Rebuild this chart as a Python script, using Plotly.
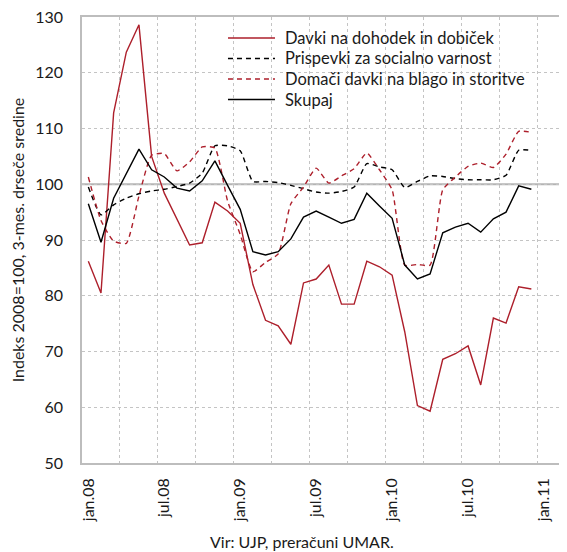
import plotly.graph_objects as go

# monthly, jan.08 .. dec.10 (3-month moving averages, 2008=100)
months = list(range(36))
tick_pos = [0, 6, 12, 18, 24, 30, 36]
tick_text = ["jan.08", "jul.08", "jan.09", "jul.09", "jan.10", "jul.10", "jan.11"]

davki_dohodek = [86.2, 80.5, 112.8, 123.7, 128.6, 105.0, 98.4, 93.8, 89.1, 89.5, 96.8, 95.2,
                 93.0, 82.0, 75.6, 74.6, 71.3, 82.3, 83.0, 85.5, 78.5, 78.5, 86.2, 85.2,
                 83.7, 73.5, 60.3, 59.3, 68.6, 69.6, 71.0, 64.0, 76.0, 75.1, 81.6, 81.2]
prispevki = [99.5, 94.5, 96.3, 97.5, 98.3, 98.8, 99.1, 99.6, 100.2, 102.0, 106.9, 106.9,
             106.0, 100.5, 100.5, 100.3, 99.8, 99.2, 98.6, 98.4, 98.7, 99.5, 103.7, 103.1,
             102.6, 99.4, 100.5, 101.5, 101.4, 101.0, 100.8, 100.8, 100.8, 101.6, 106.1, 106.1]
domaci = [101.3, 93.5, 89.8, 89.4, 97.9, 105.2, 105.5, 102.4, 104.0, 106.7, 106.5, 97.0,
          91.0, 84.3, 86.0, 87.5, 96.5, 99.5, 102.9, 100.2, 101.5, 102.8, 105.6, 102.6,
          99.0, 85.5, 85.6, 85.5, 99.0, 101.3, 103.2, 103.8, 103.0, 105.4, 109.5, 109.3]
skupaj = [96.5, 89.6, 97.5, 102.0, 106.3, 102.6, 101.3, 99.3, 98.8, 100.6, 104.2, 99.8,
          95.5, 87.9, 87.3, 87.9, 90.2, 94.1, 95.2, 94.1, 93.0, 93.7, 98.4, 96.1,
          93.9, 85.5, 83.0, 83.9, 91.3, 92.3, 93.0, 91.4, 93.8, 95.0, 99.7, 99.1]

series_names = ["Davki na dohodek in dobiček", "Prispevki za socialno varnost",
                "Domači davki na blago in storitve", "Skupaj"]

RED = "#ad1f2b"
FONT = "Lato"
DASH = "5px,4px"

styles = [
    dict(color=RED, width=1.4),
    dict(color="black", width=1.4, dash=DASH),
    dict(color=RED, width=1.4, dash=DASH),
    dict(color="black", width=1.4),
]

fig = go.Figure()
for name, vals, st in zip(series_names, [davki_dohodek, prispevki, domaci, skupaj], styles):
    line = dict(st)
    if "dash" in st:
        line.update(shape="spline", smoothing=0.5)
    fig.add_trace(go.Scatter(x=months, y=vals, mode="lines", name=name, line=line))

# the 100 reference line
fig.add_shape(type="line", xref="paper", x0=0, x1=1, yref="y", y0=100, y1=100,
              line=dict(color="#b4b4b4", width=2), layer="between")

# legend box drawn by hand (white box over the grid, short line samples, labels)
fig.add_shape(type="rect", xref="paper", yref="paper", x0=0.272, x1=0.931, y0=0.792, y1=0.971,
              fillcolor="white", line=dict(width=0), layer="between")
rows_y = [0.953, 0.907, 0.861, 0.815]
for name, st, ry in zip(series_names, styles, rows_y):
    fig.add_shape(type="line", xref="paper", yref="paper", x0=0.3035, x1=0.4012, y0=ry, y1=ry,
                  line=st, layer="above")
    fig.add_annotation(text=name, xref="paper", yref="paper", x=0.418, y=ry,
                       xanchor="left", yanchor="middle", showarrow=False, font=dict(size=16.5))

fig.add_annotation(text="Vir: UJP, preračuni UMAR.", xref="paper", yref="paper",
                   x=0.457, y=-0.175, xanchor="center", yanchor="middle",
                   showarrow=False, font=dict(size=16))

# page body keeps an 8px margin, so the figure is 8px smaller and shifted
fig.update_layout(
    width=559, height=544,
    margin=dict(l=74, r=4, t=9, b=89, autoexpand=False),
    plot_bgcolor="white", paper_bgcolor="white",
    font=dict(family=FONT, size=16, color="#1a1a1a"),
    showlegend=False,
)

fig.update_xaxes(
    range=[-0.5, 37.5], tickmode="array", tickvals=tick_pos, ticktext=tick_text,
    tickangle=-90, ticks="", showgrid=False, zeroline=False,
    showline=True, linecolor="#bdbdbd", linewidth=1.5, mirror=True,
    ticklabelstandoff=7, ticklabeloverflow="allow",
    minor=dict(tick0=2.5, dtick=3, showgrid=True, gridcolor="#c4c4c4", griddash="dot", gridwidth=1),
)
fig.update_yaxes(
    range=[50, 130], dtick=10, ticks="", showgrid=True, gridcolor="#c4c4c4", griddash="dot",
    zeroline=False, showline=True, linecolor="#bdbdbd", linewidth=1.5, mirror=True,
    ticklabelstandoff=14, ticklabeloverflow="allow",
    title=dict(text="Indeks 2008=100, 3-mes. drseče sredine", standoff=8, font=dict(size=16)),
)

fig.write_html("out.html")
